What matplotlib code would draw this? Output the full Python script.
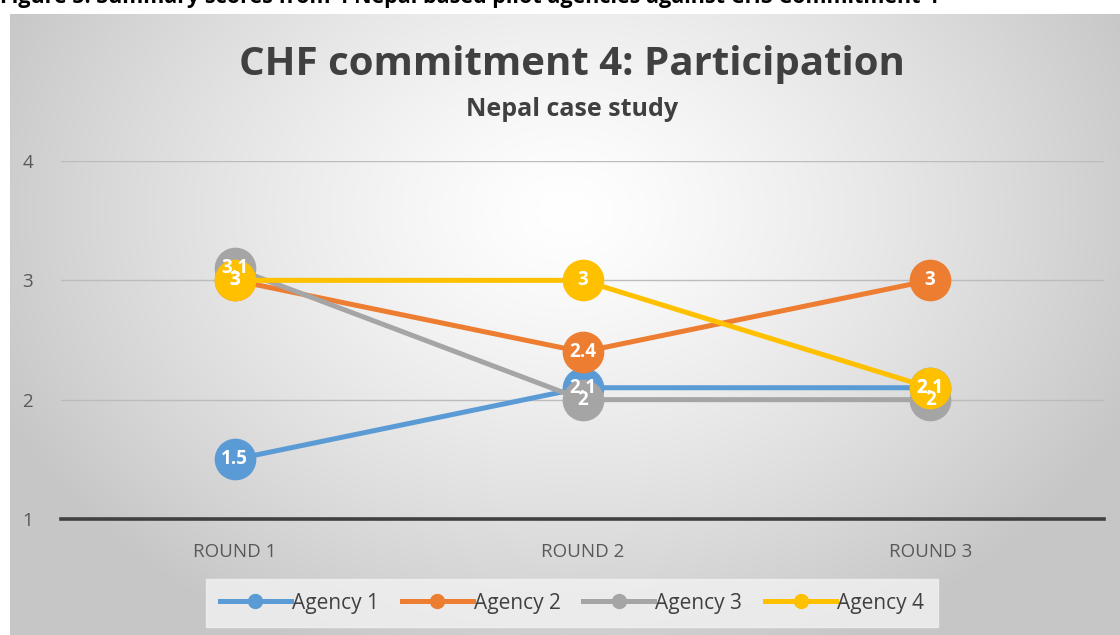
import numpy as np
import matplotlib.pyplot as plt
from matplotlib.lines import Line2D

plt.rcParams['font.family'] = ['Open Sans', 'DejaVu Sans']

rounds = ['ROUND 1', 'ROUND 2', 'ROUND 3']
agencies = ['Agency 1', 'Agency 2', 'Agency 3', 'Agency 4']
agency1 = [1.5, 2.1, 2.1]
agency2 = [3, 2.4, 3]
agency3 = [3.1, 2, 2]
agency4 = [3, 3, 2.1]
series = [agency1, agency2, agency3, agency4]
colors = ['#5B9BD5', '#ED7D31', '#A5A5A5', '#FFC000']

W, H = 1120, 635
fig = plt.figure(figsize=(W / 100, H / 100), dpi=100)

# radial gradient background of the chart area
bg = fig.add_axes([10 / W, 0, 1 - 10 / W, (H - 14) / H])
bg.set_axis_off()
yy, xx = np.mgrid[0:300, 0:540]
d = np.sqrt(((xx - 270) / 300.0) ** 2 + ((yy - 95) / 230.0) ** 2)
g = 1.0 - 0.22 * np.clip(d, 0, 1) ** 1.3
bg.imshow(np.dstack([g, g, g]), aspect='auto', extent=[0, 1, 0, 1], interpolation='bilinear')
bg.set_xlim(0, 1)
bg.set_ylim(0, 1)

# caption above the chart, cut at the top edge as in the source
fig.text(0.0, 1.004, 'Figure 5: Summary scores from 4 Nepal based pilot agencies against CHS Commitment 4',
         fontsize=15.5, fontweight='bold', va='center', ha='left', color='black')

ax = fig.add_axes([61 / W, (H - 519) / H, (1104 - 61) / W, (519 - 161) / H])
ax.patch.set_alpha(0)
x = np.arange(len(rounds))
for vals, c, name in zip(series, colors, agencies):
    ax.plot(x, vals, color=c, lw=3.6, marker='o', ms=29, mec=c, mfc=c,
            solid_capstyle='round', label=name, zorder=3, clip_on=False)
for vals in series:
    for xi, v in zip(x, vals):
        ax.text(xi, v, f'{v:g}', ha='center', va='center', color='white',
                fontsize=13.5, fontweight='bold', zorder=10)

ax.set_xlim(-0.5, 2.5)
ax.set_ylim(1, 4)
ax.set_yticks([1, 2, 3, 4])
ax.set_xticks(x)
ax.set_xticklabels(rounds)
for yv in [2, 3, 4]:
    ax.axhline(yv, color='#bcbcbc', lw=1, zorder=1)
ax.axhline(1, color='#404040', lw=2.6, zorder=2, clip_on=False)
for s in ax.spines.values():
    s.set_visible(False)
ax.tick_params(length=0, colors='#595959', labelsize=13.5)
ax.tick_params(axis='x', pad=17)
ax.tick_params(axis='y', pad=20)

fig.text(572 / W, 1 - 65 / H, 'CHF commitment 4: Participation', ha='center', va='center',
         fontsize=29, fontweight='bold', color='#404040')
fig.text(572 / W, 1 - 110 / H, 'Nepal case study', ha='center', va='center',
         fontsize=18, fontweight='bold', color='#404040')

handles = [Line2D([0], [0], color=c, lw=3.6, marker='o', ms=10) for c in colors]
leg = fig.legend(handles, agencies, loc='center', bbox_to_anchor=(572 / W, 1 - 603 / H),
                 ncol=4, frameon=True, fontsize=15, handlelength=3.4, handletextpad=0.05,
                 columnspacing=1.1, borderpad=0.45, labelcolor='#404040')
leg.get_frame().set_facecolor('#f2f2f2')
leg.get_frame().set_edgecolor('#f2f2f2')
leg.get_frame().set_boxstyle('square', pad=0.2)

fig.savefig('out.png', dpi=100)
